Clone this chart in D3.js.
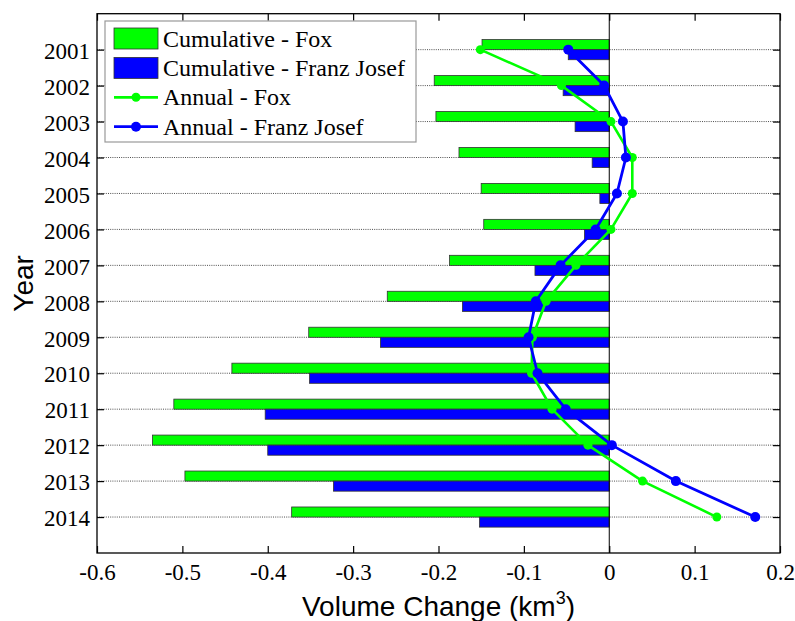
<!DOCTYPE html>
<html>
<head>
<meta charset="utf-8">
<script src="https://cdn.jsdelivr.net/npm/d3@7"></script>
<style>
    html, body { margin: 0; padding: 0; background: #fff; }
</style>
</head>
<body>
<svg id="chart"></svg>
<script>
'use strict';

const years = [2001, 2002, 2003, 2004, 2005, 2006, 2007, 2008, 2009, 2010, 2011, 2012, 2013, 2014];
const cumFox = [-0.149, -0.205, -0.203, -0.176, -0.150, -0.147, -0.187, -0.260, -0.352, -0.442, -0.510, -0.535, -0.497, -0.372];
const cumFranz = [-0.048, -0.054, -0.040, -0.020, -0.011, -0.029, -0.087, -0.172, -0.268, -0.351, -0.403, -0.400, -0.323, -0.152];
const annFox = [-0.151, -0.056, 0.002, 0.027, 0.027, 0.002, -0.039, -0.074, -0.090, -0.091, -0.067, -0.025, 0.039, 0.126];
const annFranz = [-0.048, -0.006, 0.016, 0.0195, 0.009, -0.016, -0.057, -0.086, -0.0945, -0.084, -0.051, 0.003, 0.078, 0.171];
const xTicks = [-0.6, -0.5, -0.4, -0.3, -0.2, -0.1, 0, 0.1, 0.2];
const legendLabels = ['Cumulative - Fox', 'Cumulative - Franz Josef', 'Annual - Fox', 'Annual - Franz Josef'];

(function () {
    const width = 795;
    const height = 621;
    const green = '#00ff00';
    const blue = '#0000ff';
    const serif = 'Liberation Serif, DejaVu Serif, Times New Roman, serif';
    const sans = 'Liberation Sans, Arial, sans-serif';

    const left = 97, right = 780, top = 13.7, bottom = 553;
    const barSize = 0.28; // in year units

    const x = d3.scaleLinear().domain([-0.6, 0.2]).range([left, right]);
    const y = d3.scaleLinear().domain([2000, 2015]).range([top, bottom]);

    const svg = d3.select('#chart')
        .attr('width', width)
        .attr('height', height);

    // dotted grid at each year
    svg.append('g')
        .selectAll('line')
        .data(years)
        .enter().append('line')
        .attr('x1', left)
        .attr('x2', right)
        .attr('y1', d => y(d))
        .attr('y2', d => y(d))
        .attr('stroke', '#222')
        .attr('stroke-width', 0.8)
        .attr('stroke-dasharray', '1,1.2');

    // bars: Fox above the year line, Franz Josef below
    const bars = svg.append('g');
    bars.selectAll('.fox')
        .data(years)
        .enter().append('rect')
        .attr('class', 'fox')
        .attr('x', (d, i) => x(cumFox[i]))
        .attr('width', (d, i) => x(0) - x(cumFox[i]))
        .attr('y', d => y(d - barSize))
        .attr('height', d => y(d) - y(d - barSize))
        .attr('fill', green)
        .attr('stroke', '#333')
        .attr('stroke-width', 0.8);

    bars.selectAll('.franz')
        .data(years)
        .enter().append('rect')
        .attr('class', 'franz')
        .attr('x', (d, i) => x(cumFranz[i]))
        .attr('width', (d, i) => x(0) - x(cumFranz[i]))
        .attr('y', d => y(d))
        .attr('height', d => y(d + barSize) - y(d))
        .attr('fill', blue)
        .attr('stroke', '#333')
        .attr('stroke-width', 0.8);

    // baseline at zero
    svg.append('line')
        .attr('x1', x(0))
        .attr('x2', x(0))
        .attr('y1', top)
        .attr('y2', bottom)
        .attr('stroke', '#000')
        .attr('stroke-width', 1);

    // annual lines
    const line = d3.line()
        .x(d => x(d[1]))
        .y(d => y(d[0]));

    function drawSeries(values, color, lw, r) {
        const pts = years.map((yr, i) => [yr, values[i]]);
        svg.append('path')
            .datum(pts)
            .attr('fill', 'none')
            .attr('stroke', color)
            .attr('stroke-width', lw)
            .attr('stroke-linejoin', 'round')
            .attr('d', line);
        svg.append('g')
            .selectAll('circle')
            .data(pts)
            .enter().append('circle')
            .attr('cx', d => x(d[1]))
            .attr('cy', d => y(d[0]))
            .attr('r', r)
            .attr('fill', color);
    }

    drawSeries(annFox, green, 2.6, 4.5);
    drawSeries(annFranz, blue, 2.8, 5);

    // axes, ticks pointing inward
    const fmtX = d => d === 0 ? '0' : d3.format('.1f')(d).replace('\u2212', '-');

    const xAxis = svg.append('g')
        .attr('transform', 'translate(0,' + bottom + ')')
        .call(d3.axisBottom(x).tickValues(xTicks).tickFormat(fmtX).tickSizeInner(-7).tickSizeOuter(0).tickPadding(11));
    svg.append('g')
        .attr('transform', 'translate(0,' + top + ')')
        .call(d3.axisTop(x).tickValues(xTicks).tickFormat('').tickSizeInner(-7).tickSizeOuter(0));
    const yAxis = svg.append('g')
        .attr('transform', 'translate(' + left + ',0)')
        .call(d3.axisLeft(y).tickValues(years).tickFormat(d3.format('d')).tickSizeInner(-7).tickSizeOuter(0).tickPadding(7));
    svg.append('g')
        .attr('transform', 'translate(' + right + ',0)')
        .call(d3.axisRight(y).tickValues(years).tickFormat('').tickSizeInner(-7).tickSizeOuter(0));

    svg.selectAll('.domain').remove();
    svg.selectAll('.tick line').attr('stroke', '#000').attr('stroke-width', 1.2);
    svg.selectAll('.tick text')
        .style('font-family', serif)
        .style('font-size', '23px')
        .attr('fill', '#000');
    xAxis.selectAll('.tick text').attr('dy', '0.71em');
    yAxis.selectAll('.tick text').attr('dy', '0.38em');

    // plot frame
    svg.append('rect')
        .attr('x', left)
        .attr('y', top)
        .attr('width', right - left)
        .attr('height', bottom - top)
        .attr('fill', 'none')
        .attr('stroke', '#000')
        .attr('stroke-width', 1.3);

    // axis titles
    svg.append('text')
        .attr('transform', 'translate(33,' + ((top + bottom) / 2) + ') rotate(-90)')
        .attr('text-anchor', 'middle')
        .style('font-family', sans)
        .style('font-size', '28px')
        .text('Year');

    const xt = svg.append('text')
        .attr('x', (left + right) / 2)
        .attr('y', 616)
        .attr('text-anchor', 'middle')
        .style('font-family', sans)
        .style('font-size', '28px');
    xt.append('tspan').text('Volume Change (km');
    xt.append('tspan').attr('dy', -12).style('font-size', '18px').text('3');
    xt.append('tspan').attr('dy', 12).text(')');

    // legend
    const legend = svg.append('g');
    legend.append('rect')
        .attr('x', 105)
        .attr('y', 21)
        .attr('width', 311)
        .attr('height', 121)
        .attr('fill', '#fff')
        .attr('stroke', '#999')
        .attr('stroke-width', 1.2);

    const rowY = i => 38.5 + i * 29.4;
    const colors = [green, blue, green, blue];

    legendLabels.forEach((label, i) => {
        const cy = rowY(i);
        if (i < 2) {
            legend.append('rect')
                .attr('x', 114)
                .attr('y', cy - 10.5)
                .attr('width', 44)
                .attr('height', 21)
                .attr('fill', colors[i])
                .attr('stroke', '#333')
                .attr('stroke-width', 0.8);
        } else {
            legend.append('line')
                .attr('x1', 114)
                .attr('x2', 158)
                .attr('y1', cy)
                .attr('y2', cy)
                .attr('stroke', colors[i])
                .attr('stroke-width', 2.8);
            legend.append('circle')
                .attr('cx', 136)
                .attr('cy', cy)
                .attr('r', i === 2 ? 4.5 : 5)
                .attr('fill', colors[i]);
        }
        legend.append('text')
            .attr('x', 163)
            .attr('y', cy)
            .attr('dy', '0.34em')
            .style('font-family', serif)
            .style('font-size', '24px')
            .text(label);
    });
})();
</script>
</body>
</html>
